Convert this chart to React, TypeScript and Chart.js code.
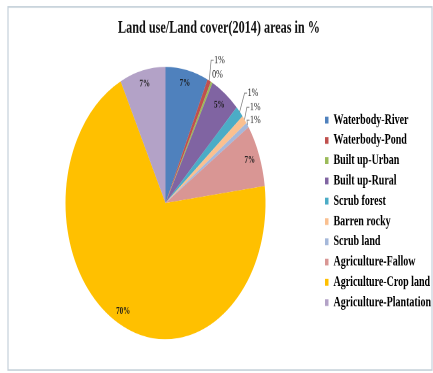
import React, { useEffect, useRef } from 'react';
import { Chart, registerables } from 'chart.js';

Chart.register(...registerables);

// ---- data ----
const categories = [
  'Waterbody-River',
  'Waterbody-Pond',
  'Built up-Urban',
  'Built up-Rural',
  'Scrub forest',
  'Barren rocky',
  'Scrub land',
  'Agriculture-Fallow',
  'Agriculture-Crop land',
  'Agriculture-Plantation',
];
const areaPercent = [6.9, 0.6, 0.3, 4.8, 1.4, 1.0, 0.6, 7.4, 69.6, 7.4];
const percentLabels = areaPercent.map((v) => `${Math.round(v)}%`);
const sliceColors = [
  '#4F81BD',
  '#C0504D',
  '#9BBB59',
  '#8064A2',
  '#4BACC6',
  '#FAC090',
  '#A5B8DA',
  '#D99694',
  '#FFC000',
  '#B3A2C7',
];
const titleText = 'Land use/Land cover(2014) areas in %';

// ---- geometry of the stretched picture ----
const W = 433;
const H = 274; // drawn height, stretched vertically to 373
const STRETCH = 373 / H;

// label style config (inside vs. outside placement)
const insideIdx = [0, 3, 7, 8, 9];
const outsidePlacement: Record<number, { dr: number; da: number; leader: boolean }> = {
  1: { dr: 18, da: 1.3, leader: true },
  2: { dr: 7.5, da: 1.4, leader: false },
  4: { dr: 19, da: -0.6, leader: true },
  5: { dr: 14, da: -0.3, leader: true },
  6: { dr: 8.5, da: 0.8, leader: true },
};

const framePlugin = {
  id: 'frame',
  beforeDraw(chart: any) {
    const ctx = chart.ctx;
    ctx.save();
    ctx.fillStyle = '#ffffff';
    ctx.fillRect(0, 0, chart.width, chart.height);
    ctx.strokeStyle = '#c5d1da';
    ctx.lineWidth = 1.2;
    ctx.strokeRect(8, 7 / STRETCH, 424, (370 - 7) / STRETCH);
    ctx.restore();
  },
};

const labelPlugin = {
  id: 'sliceLabels',
  afterDatasetsDraw(chart: any) {
    const ctx = chart.ctx;
    const meta = chart.getDatasetMeta(0);
    ctx.save();
    ctx.textBaseline = 'middle';
    ctx.textAlign = 'center';
    meta.data.forEach((arc: any, i: number) => {
      const p = arc.getProps(['x', 'y', 'startAngle', 'endAngle', 'outerRadius'], true);
      const mid = (p.startAngle + p.endAngle) / 2;
      const text = percentLabels[i];
      if (insideIdx.includes(i)) {
        const r = p.outerRadius * 0.9;
        ctx.font = 'bold 7px "Liberation Serif"';
        ctx.fillStyle = '#1a1a1a';
        ctx.fillText(text, p.x + r * Math.cos(mid), p.y + r * Math.sin(mid));
      } else {
        const pl = outsidePlacement[i];
        const a = mid + (pl.da * Math.PI) / 180;
        const r = p.outerRadius + pl.dr;
        const tx = p.x + r * Math.cos(a);
        const ty = p.y + r * Math.sin(a);
        ctx.font = '8px "Liberation Serif"';
        const w = ctx.measureText(text).width;
        if (pl.leader) {
          const ex = p.x + p.outerRadius * Math.cos(mid);
          const ey = p.y + p.outerRadius * Math.sin(mid);
          ctx.strokeStyle = '#7f7f7f';
          ctx.lineWidth = 0.7;
          ctx.beginPath();
          ctx.moveTo(ex, ey);
          ctx.lineTo(tx - w / 2 - 3, ty);
          ctx.lineTo(tx - w / 2 - 0.5, ty);
          ctx.stroke();
        }
        ctx.fillStyle = '#262626';
        ctx.fillText(text, tx, ty);
      }
    });
    ctx.restore();
  },
};

export default function App() {
  const canvasRef = useRef<HTMLCanvasElement | null>(null);

  useEffect(() => {
    if (!canvasRef.current) return;
    const chart = new Chart(canvasRef.current, {
      type: 'pie',
      data: {
        labels: categories,
        datasets: [
          {
            data: areaPercent,
            backgroundColor: sliceColors,
            borderWidth: 0,
          },
        ],
      },
      options: {
        responsive: false,
        animation: false,
        devicePixelRatio: 2,
        events: [],
        radius: 100,
        layout: { padding: { left: 6, right: 1, top: 0, bottom: 15.8 } },
        plugins: {
          tooltip: { enabled: false },
          title: {
            display: true,
            text: titleText,
            color: '#111111',
            font: { family: '"Liberation Serif"', size: 12.2, weight: 'bold', lineHeight: 1.2 },
            padding: { top: 13.3, bottom: 12.1 },
          },
          legend: {
            position: 'right',
            align: 'center',
            maxWidth: 107,
            title: {
              display: true,
              text: '',
              font: { size: 10, lineHeight: 1.2 },
              padding: { top: 47.7, bottom: 0 },
            },
            labels: {
              boxWidth: 6,
              boxHeight: 5,
              padding: -2.5,
              color: '#000000',
              font: { family: '"Liberation Serif"', size: 10, weight: 'bold', lineHeight: 1.74 },
              generateLabels(c: any) {
                const items = (Chart as any).overrides.doughnut.plugins.legend.labels.generateLabels(c);
                return items.map((it: any) => ({ ...it, text: [it.text] }));
              },
            },
          },
        },
      } as any,
      plugins: [framePlugin, labelPlugin],
    });
    return () => chart.destroy();
  }, []);

  return (
    <div
      style={{
        position: 'absolute',
        left: 0,
        top: 0,
        width: W,
        height: H,
        transform: `scaleY(${STRETCH})`,
        transformOrigin: '0 0',
      }}
    >
      <canvas ref={canvasRef} width={W} height={H} />
    </div>
  );
}
